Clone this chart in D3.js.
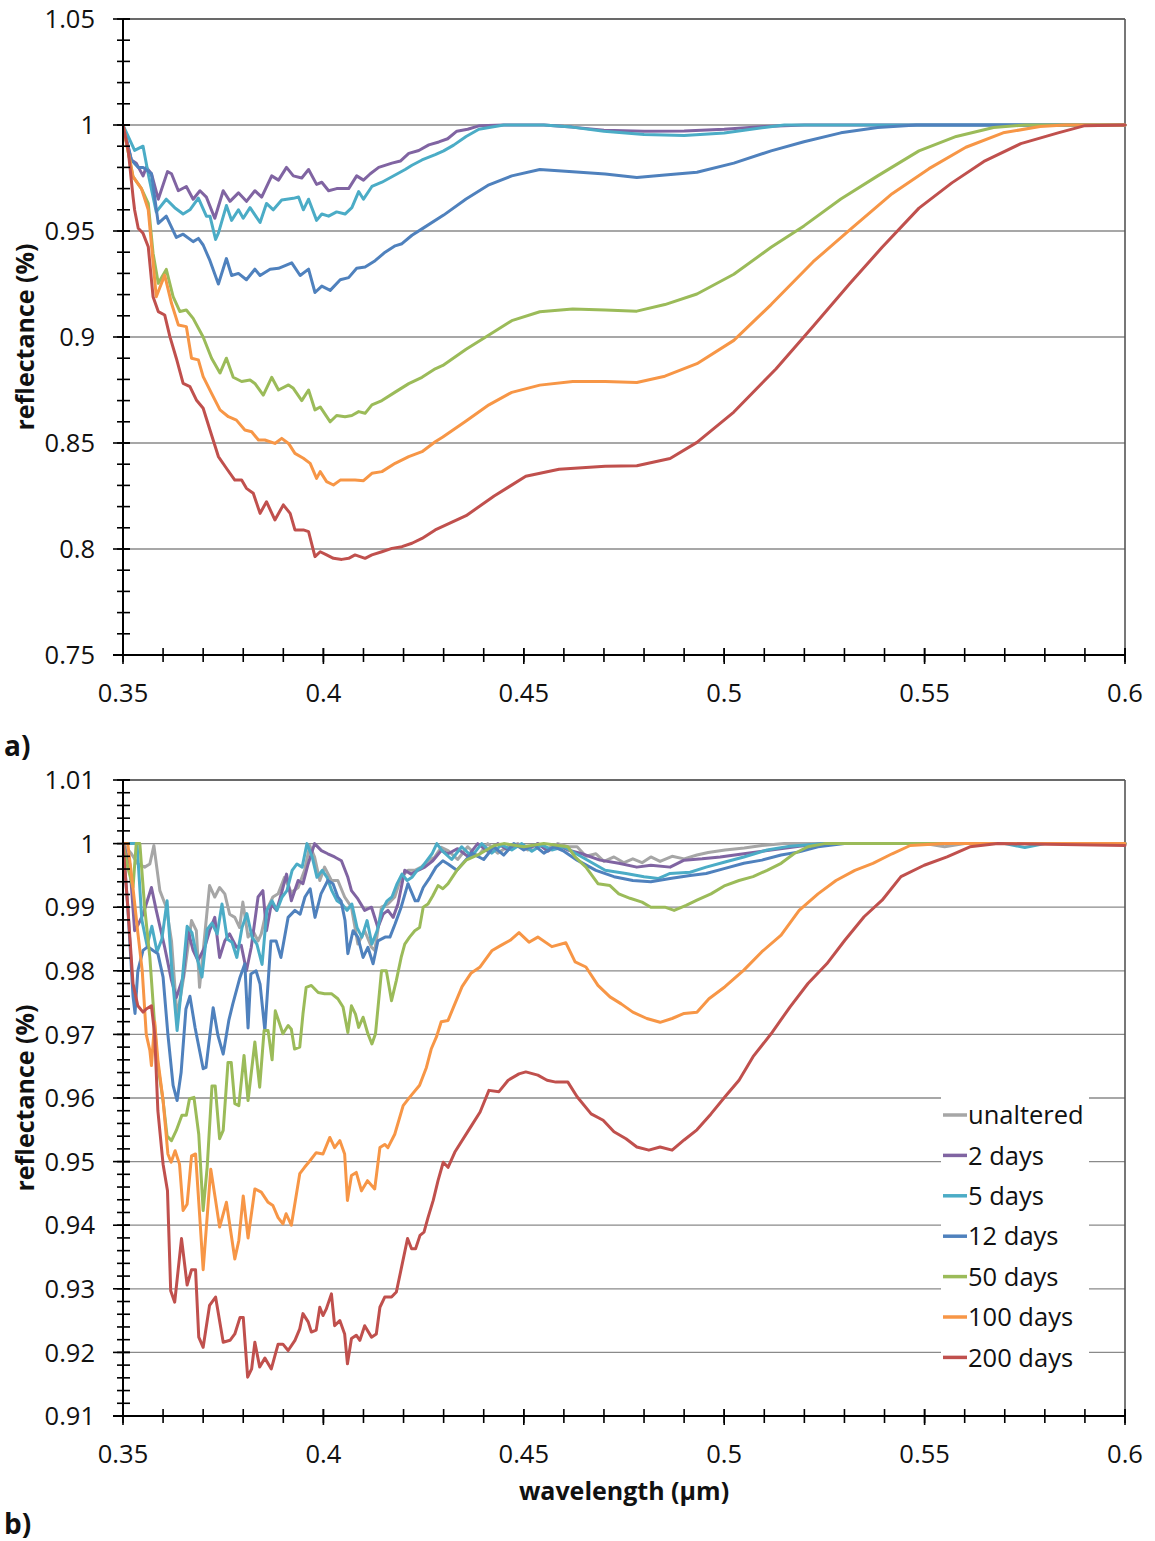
<!DOCTYPE html>
<html><head><meta charset="utf-8">
<script src="https://cdn.jsdelivr.net/npm/d3@7"></script>
<style>
body{margin:0;background:#fff;}
svg{display:block;}
text{font-family:"Open Sans","Noto Sans",sans-serif;}
</style>
</head><body>
<svg id="chart" width="1155" height="1541"></svg>
<script>
// ---------------- DATA: panel a ([wavelength µm, reflectance]) ----------------
const a_2days = [[0.35,1.0],[0.3521,0.9835],[0.3533,0.982],[0.355,0.976],[0.3558,0.980],[0.3571,0.977],[0.3588,0.965],[0.3611,0.978],[0.3621,0.977],[0.3638,0.969],[0.3658,0.971],[0.3675,0.965],[0.3692,0.969],[0.3708,0.966],[0.3729,0.956],[0.375,0.969],[0.3767,0.964],[0.3788,0.968],[0.3808,0.964],[0.3829,0.969],[0.3846,0.966],[0.3871,0.976],[0.3888,0.974],[0.3908,0.980],[0.3925,0.976],[0.3946,0.975],[0.3963,0.979],[0.3983,0.972],[0.3996,0.973],[0.4013,0.969],[0.4033,0.970],[0.4063,0.970],[0.4083,0.976],[0.41,0.974],[0.4117,0.977],[0.4138,0.980],[0.4171,0.982],[0.4192,0.983],[0.4213,0.9866],[0.4238,0.988],[0.4263,0.9906],[0.4288,0.992],[0.431,0.9935],[0.4333,0.9971],[0.436,0.998],[0.439,0.9997],[0.445,1.0],[0.455,1.0],[0.462,0.999],[0.47,0.9975],[0.48,0.997],[0.49,0.9972],[0.5,0.998],[0.51,0.9993],[0.52,1.0],[0.6,1.0]];
const a_5days = [[0.35,1.0],[0.3529,0.988],[0.355,0.990],[0.3565,0.975],[0.3583,0.959],[0.3608,0.965],[0.3629,0.961],[0.365,0.958],[0.3667,0.960],[0.3688,0.9655],[0.3708,0.957],[0.3717,0.957],[0.3731,0.946],[0.3738,0.949],[0.3758,0.962],[0.3771,0.955],[0.3788,0.960],[0.38,0.956],[0.3817,0.961],[0.3842,0.954],[0.3858,0.963],[0.3875,0.960],[0.3896,0.9646],[0.3925,0.9654],[0.3938,0.966],[0.395,0.960],[0.3963,0.965],[0.3983,0.955],[0.3996,0.958],[0.4013,0.957],[0.4033,0.959],[0.4054,0.958],[0.4071,0.961],[0.4088,0.9686],[0.41,0.965],[0.4121,0.971],[0.4146,0.973],[0.4171,0.9756],[0.4204,0.979],[0.4221,0.981],[0.4246,0.9835],[0.4279,0.986],[0.43,0.9878],[0.4325,0.9905],[0.4356,0.9946],[0.4388,0.998],[0.445,1.0],[0.455,1.0],[0.462,0.999],[0.47,0.997],[0.48,0.9955],[0.49,0.995],[0.5,0.9962],[0.51,0.9988],[0.515,1.0],[0.6,1.0]];
const a_12days = [[0.35,1.0],[0.3521,0.9835],[0.3538,0.980],[0.355,0.980],[0.3571,0.977],[0.3588,0.9536],[0.3608,0.957],[0.3633,0.947],[0.365,0.9485],[0.3675,0.945],[0.3688,0.9465],[0.37,0.9434],[0.3717,0.936],[0.3738,0.925],[0.3758,0.937],[0.3771,0.929],[0.3788,0.930],[0.3808,0.927],[0.3829,0.932],[0.3842,0.929],[0.3867,0.932],[0.3888,0.9324],[0.3921,0.935],[0.3942,0.929],[0.3963,0.932],[0.3979,0.921],[0.3996,0.924],[0.4017,0.922],[0.4042,0.927],[0.4063,0.928],[0.4083,0.9324],[0.4104,0.933],[0.4129,0.936],[0.4154,0.940],[0.4179,0.943],[0.4196,0.944],[0.4221,0.948],[0.4246,0.951],[0.43,0.9575],[0.4356,0.9651],[0.4413,0.9718],[0.447,0.976],[0.454,0.979],[0.4622,0.978],[0.4703,0.9769],[0.4782,0.9752],[0.4852,0.9764],[0.4932,0.9777],[0.5024,0.982],[0.5117,0.9878],[0.5199,0.9921],[0.5291,0.9963],[0.5383,0.9988],[0.548,1.0],[0.6,1.0]];
const a_50days = [[0.35,1.0],[0.3525,0.9756],[0.3546,0.970],[0.3563,0.963],[0.3575,0.9395],[0.3588,0.9253],[0.3608,0.9319],[0.3625,0.919],[0.3642,0.912],[0.3658,0.9127],[0.3675,0.9088],[0.37,0.900],[0.3721,0.890],[0.3742,0.883],[0.3758,0.890],[0.3775,0.881],[0.3796,0.879],[0.3817,0.8797],[0.3829,0.8781],[0.385,0.8726],[0.3871,0.881],[0.3888,0.875],[0.3913,0.8774],[0.3925,0.8758],[0.3946,0.870],[0.3963,0.875],[0.3979,0.8656],[0.3992,0.867],[0.4017,0.860],[0.4033,0.863],[0.4054,0.8624],[0.4071,0.863],[0.4088,0.8648],[0.4104,0.864],[0.4121,0.868],[0.4146,0.870],[0.4179,0.874],[0.4213,0.878],[0.4246,0.881],[0.4279,0.885],[0.4298,0.8866],[0.4356,0.8942],[0.4413,0.9009],[0.447,0.9077],[0.454,0.9119],[0.4622,0.9132],[0.4703,0.9127],[0.4782,0.9122],[0.4852,0.9153],[0.4932,0.9203],[0.5024,0.9296],[0.5117,0.9423],[0.5199,0.9524],[0.5291,0.9651],[0.5383,0.976],[0.5486,0.9878],[0.5579,0.9946],[0.5672,0.9988],[0.575,1.0],[0.6,1.0]];
const a_100days = [[0.35,1.0],[0.3525,0.9756],[0.3546,0.970],[0.3563,0.960],[0.3583,0.919],[0.3604,0.9292],[0.3621,0.9159],[0.3638,0.9057],[0.3658,0.9049],[0.3671,0.890],[0.3688,0.8892],[0.37,0.8813],[0.3721,0.8734],[0.3742,0.8656],[0.3763,0.8624],[0.3783,0.8608],[0.3804,0.8561],[0.3821,0.8553],[0.3838,0.8514],[0.3854,0.8514],[0.3879,0.8498],[0.3896,0.8522],[0.3913,0.8498],[0.3929,0.8451],[0.395,0.8428],[0.3967,0.8404],[0.3983,0.8333],[0.3992,0.8365],[0.4008,0.8318],[0.4025,0.8302],[0.4042,0.8325],[0.4063,0.8325],[0.4079,0.8325],[0.41,0.8322],[0.4121,0.8357],[0.4146,0.8365],[0.4179,0.8404],[0.4213,0.8436],[0.4246,0.8459],[0.4279,0.8506],[0.4298,0.8528],[0.4356,0.8604],[0.4413,0.868],[0.447,0.8739],[0.454,0.8773],[0.4622,0.879],[0.4703,0.879],[0.4782,0.8785],[0.4852,0.8815],[0.4932,0.8874],[0.5024,0.8984],[0.5117,0.9153],[0.5222,0.9355],[0.5314,0.9507],[0.5419,0.9676],[0.5511,0.9794],[0.5603,0.9895],[0.5696,0.9963],[0.5788,0.9993],[0.585,1.0],[0.6,1.0]];
const a_200days = [[0.35,1.0],[0.3513,0.9882],[0.3525,0.9662],[0.3529,0.9599],[0.3538,0.9513],[0.355,0.9489],[0.3563,0.9426],[0.3575,0.919],[0.3588,0.912],[0.3604,0.9104],[0.3617,0.9002],[0.3633,0.890],[0.365,0.8781],[0.3667,0.8766],[0.3683,0.8703],[0.37,0.8664],[0.3717,0.8561],[0.3738,0.8436],[0.3758,0.8381],[0.3779,0.8325],[0.3796,0.8325],[0.3808,0.8286],[0.3825,0.8263],[0.3842,0.8168],[0.3858,0.8223],[0.3879,0.8137],[0.39,0.8208],[0.3917,0.8168],[0.3929,0.809],[0.395,0.809],[0.3963,0.8082],[0.3979,0.7964],[0.3992,0.7987],[0.4008,0.7972],[0.4025,0.7956],[0.4046,0.7951],[0.4063,0.7956],[0.4079,0.7972],[0.4104,0.7956],[0.4121,0.7972],[0.4146,0.7987],[0.4171,0.8003],[0.4196,0.8011],[0.4221,0.8027],[0.4246,0.805],[0.4279,0.809],[0.4356,0.8157],[0.4426,0.825],[0.4505,0.8343],[0.4588,0.8376],[0.4703,0.839],[0.4782,0.8393],[0.4865,0.8427],[0.4932,0.8503],[0.5024,0.8646],[0.5129,0.8849],[0.5222,0.9051],[0.5314,0.9254],[0.5394,0.9423],[0.5486,0.9608],[0.5568,0.9727],[0.5648,0.9828],[0.574,0.9912],[0.5833,0.9963],[0.59,0.9997],[0.6,1.0]];

// ---------------- DATA: panel b ----------------
const b_unaltered = [[0.35,1.0],[0.3521,0.9984],[0.3537,0.9968],[0.3554,0.9963],[0.3567,0.9968],[0.3577,0.9997],[0.3592,0.9926],[0.3608,0.99],[0.3621,0.9847],[0.3635,0.9727],[0.3654,0.980],[0.3671,0.9879],[0.3683,0.9863],[0.3691,0.9774],[0.3705,0.9863],[0.3716,0.9934],[0.3729,0.9916],[0.3741,0.9931],[0.3754,0.9921],[0.3766,0.9889],[0.3779,0.9884],[0.3791,0.9868],[0.3799,0.9908],[0.3812,0.9853],[0.3824,0.9863],[0.3837,0.9847],[0.3845,0.9858],[0.3858,0.9895],[0.3874,0.9916],[0.3887,0.9921],[0.3903,0.9947],[0.392,0.9923],[0.3937,0.9931],[0.3953,0.9958],[0.3966,0.9997],[0.3978,0.9979],[0.3991,0.9942],[0.4003,0.9963],[0.402,0.9942],[0.4036,0.9942],[0.4053,0.9916],[0.407,0.99],[0.4086,0.9842],[0.4103,0.9863],[0.412,0.9837],[0.4128,0.9832],[0.4145,0.99],[0.4161,0.9905],[0.4178,0.9916],[0.4194,0.9947],[0.4211,0.9958],[0.4228,0.9958],[0.4244,0.9963],[0.4261,0.9973],[0.4278,0.9979],[0.4294,0.9994],[0.4311,0.9989],[0.4335,0.9975],[0.436,0.9995],[0.4385,0.998],[0.441,1.0],[0.4435,0.9985],[0.446,0.9995],[0.4485,1.0],[0.451,0.999],[0.4535,1.0],[0.456,0.9992],[0.4585,1.0],[0.461,0.9995],[0.4633,0.9995],[0.4655,0.998],[0.468,0.9984],[0.47,0.9972],[0.4725,0.9979],[0.475,0.997],[0.4772,0.9976],[0.4795,0.997],[0.4817,0.9979],[0.484,0.9972],[0.487,0.998],[0.49,0.9976],[0.4932,0.9982],[0.496,0.9986],[0.5002,0.999],[0.505,0.9993],[0.5094,0.9997],[0.515,1.0],[0.55,1.0],[0.555,0.9995],[0.56,1.0],[0.6,1.0]];
const b_2days = [[0.35,1.0],[0.3517,0.9968],[0.3529,0.9863],[0.3539,0.9874],[0.355,0.9889],[0.3571,0.9931],[0.3583,0.9895],[0.3604,0.9837],[0.3621,0.9785],[0.3633,0.9758],[0.365,0.979],[0.3662,0.9863],[0.3675,0.9832],[0.3687,0.9816],[0.3704,0.9837],[0.3716,0.9863],[0.3729,0.9884],[0.3741,0.9821],[0.3754,0.9847],[0.3766,0.9858],[0.3783,0.9837],[0.3795,0.984],[0.3808,0.98],[0.382,0.9837],[0.3837,0.9916],[0.3849,0.9926],[0.3858,0.9863],[0.387,0.9905],[0.3883,0.9895],[0.3895,0.9921],[0.3908,0.9952],[0.392,0.991],[0.3937,0.9942],[0.3949,0.9937],[0.3962,0.9968],[0.3978,1.0],[0.3995,0.9989],[0.4011,0.9984],[0.4028,0.9979],[0.4045,0.9973],[0.4061,0.9947],[0.407,0.9926],[0.4086,0.9913],[0.4103,0.9895],[0.412,0.99],[0.4136,0.9868],[0.4149,0.9889],[0.4161,0.9895],[0.4174,0.9884],[0.4186,0.9905],[0.4203,0.9958],[0.4219,0.9952],[0.4236,0.9958],[0.4253,0.9963],[0.4273,0.9973],[0.4294,0.9989],[0.4311,0.9984],[0.4335,0.9992],[0.436,0.998],[0.4385,1.0],[0.441,0.9988],[0.4435,1.0],[0.446,0.999],[0.4485,0.9998],[0.451,0.9992],[0.4535,1.0],[0.456,0.9988],[0.4585,0.9998],[0.461,0.999],[0.4645,0.9984],[0.469,0.9974],[0.4737,0.9969],[0.4782,0.9963],[0.4817,0.9966],[0.4865,0.9963],[0.49,0.9974],[0.4945,0.9976],[0.499,0.9979],[0.5049,0.9984],[0.5117,0.999],[0.5187,0.9996],[0.525,1.0],[0.6,1.0]];
const b_5days = [[0.35,1.0],[0.3517,1.0],[0.3535,1.0],[0.3547,0.988],[0.356,0.984],[0.3572,0.987],[0.3585,0.983],[0.3597,0.985],[0.361,0.991],[0.3622,0.980],[0.3635,0.9706],[0.3647,0.978],[0.366,0.987],[0.3672,0.986],[0.3685,0.982],[0.3697,0.979],[0.371,0.9865],[0.3722,0.9875],[0.3735,0.9858],[0.3747,0.9905],[0.376,0.985],[0.3772,0.9845],[0.3784,0.9821],[0.3797,0.9868],[0.3809,0.989],[0.3822,0.9853],[0.3834,0.9842],[0.3847,0.981],[0.3859,0.9895],[0.3872,0.991],[0.3884,0.9895],[0.3897,0.9916],[0.3909,0.9926],[0.3922,0.9958],[0.3934,0.9968],[0.3947,0.9963],[0.3959,1.0],[0.3972,0.9979],[0.3984,0.9947],[0.3997,0.9958],[0.4009,0.9947],[0.4021,0.9926],[0.4034,0.991],[0.4046,0.9905],[0.4059,0.9895],[0.4071,0.9905],[0.4084,0.9868],[0.4096,0.9853],[0.4109,0.9879],[0.4121,0.9842],[0.4134,0.9863],[0.4146,0.9895],[0.4159,0.991],[0.4171,0.9916],[0.4184,0.9937],[0.4196,0.9952],[0.4209,0.9942],[0.4221,0.9947],[0.4234,0.9958],[0.4246,0.9963],[0.4259,0.9974],[0.4271,0.9984],[0.4283,1.0],[0.4296,0.9989],[0.432,0.9975],[0.4345,0.9995],[0.437,0.998],[0.4395,1.0],[0.442,0.9985],[0.4445,0.9998],[0.447,0.999],[0.4495,1.0],[0.452,0.9988],[0.4545,0.9998],[0.457,0.999],[0.46,0.9995],[0.4645,0.9979],[0.4703,0.9958],[0.4755,0.9953],[0.48,0.9948],[0.4835,0.9945],[0.4865,0.9953],[0.4915,0.9955],[0.4955,0.9963],[0.5002,0.9971],[0.5049,0.9979],[0.5107,0.999],[0.5164,0.9996],[0.525,1.0],[0.57,1.0],[0.575,0.9994],[0.58,1.0],[0.6,1.0]];
const b_12days = [[0.35,1.0],[0.3512,0.99],[0.3525,0.976],[0.353,0.9733],[0.3537,0.980],[0.355,0.9832],[0.3562,0.9838],[0.3575,0.9832],[0.3587,0.9827],[0.36,0.979],[0.3612,0.970],[0.3625,0.962],[0.3635,0.9596],[0.3645,0.964],[0.3657,0.974],[0.3667,0.976],[0.368,0.971],[0.37,0.9646],[0.3707,0.9648],[0.3725,0.9742],[0.3737,0.9698],[0.375,0.9669],[0.3764,0.9722],[0.3774,0.9748],[0.3792,0.979],[0.3804,0.9811],[0.3812,0.971],[0.3819,0.9795],[0.3832,0.98],[0.3842,0.9779],[0.3854,0.9706],[0.3869,0.9847],[0.3882,0.9847],[0.3894,0.9821],[0.3912,0.9884],[0.3929,0.9895],[0.3942,0.9889],[0.3954,0.9916],[0.3967,0.9929],[0.3979,0.9884],[0.3994,0.9921],[0.4011,0.9942],[0.4024,0.9937],[0.4036,0.9916],[0.4044,0.991],[0.4054,0.9879],[0.4061,0.9827],[0.4074,0.9863],[0.4086,0.9853],[0.4099,0.9821],[0.4111,0.9837],[0.4124,0.9811],[0.4136,0.9847],[0.4154,0.9853],[0.4166,0.9853],[0.4179,0.9874],[0.4194,0.99],[0.4211,0.9937],[0.4229,0.991],[0.4236,0.991],[0.4249,0.9931],[0.4266,0.9947],[0.4281,0.9963],[0.4298,0.9973],[0.4311,0.9968],[0.4333,0.9958],[0.437,0.9985],[0.44,0.9975],[0.4425,0.9995],[0.445,0.9982],[0.4475,1.0],[0.45,0.999],[0.4525,0.9998],[0.455,0.9985],[0.4575,0.9995],[0.46,0.9988],[0.4633,0.9974],[0.468,0.9958],[0.4725,0.9948],[0.4772,0.9942],[0.4817,0.994],[0.4865,0.9945],[0.4915,0.995],[0.4955,0.9953],[0.5002,0.9961],[0.5049,0.9969],[0.5094,0.9974],[0.5142,0.9982],[0.5187,0.9987],[0.5234,0.9995],[0.53,1.0],[0.6,1.0]];
const b_50days = [[0.35,1.0],[0.3513,0.996],[0.3525,0.9931],[0.3533,1.0],[0.3542,1.0],[0.3554,0.990],[0.3567,0.9821],[0.3575,0.975],[0.3585,0.966],[0.36,0.9596],[0.361,0.954],[0.3621,0.9533],[0.3633,0.9549],[0.3647,0.9573],[0.3658,0.9573],[0.3666,0.9599],[0.3677,0.9601],[0.3689,0.9543],[0.37,0.9423],[0.371,0.9491],[0.3722,0.9619],[0.373,0.9619],[0.3741,0.9536],[0.375,0.9549],[0.3762,0.9656],[0.377,0.9656],[0.3779,0.9591],[0.3789,0.9588],[0.3802,0.9667],[0.3812,0.9596],[0.3829,0.9688],[0.3841,0.9617],[0.3852,0.9706],[0.3862,0.9706],[0.3872,0.966],[0.388,0.9737],[0.3899,0.9701],[0.3912,0.9714],[0.392,0.9708],[0.3928,0.9677],[0.3941,0.968],[0.3949,0.9732],[0.3957,0.9774],[0.397,0.9777],[0.3987,0.9766],[0.4003,0.9764],[0.402,0.9764],[0.4036,0.9756],[0.4049,0.9743],[0.4061,0.9703],[0.407,0.9745],[0.408,0.9732],[0.4088,0.9711],[0.4099,0.9727],[0.4111,0.9701],[0.4121,0.9685],[0.413,0.9701],[0.4145,0.98],[0.4157,0.98],[0.417,0.9753],[0.4182,0.9785],[0.4194,0.9821],[0.4203,0.9842],[0.4215,0.9853],[0.4228,0.9863],[0.424,0.9868],[0.4249,0.99],[0.4261,0.9905],[0.4273,0.9918],[0.4286,0.9934],[0.4298,0.9929],[0.4311,0.9937],[0.4333,0.9958],[0.4356,0.9974],[0.4391,0.9984],[0.4426,0.9997],[0.445,1.0],[0.45,0.9995],[0.455,1.0],[0.461,0.9995],[0.4628,0.9979],[0.4655,0.9963],[0.4685,0.9937],[0.4715,0.9934],[0.4737,0.9921],[0.4765,0.9914],[0.4795,0.9908],[0.4817,0.99],[0.4852,0.99],[0.4875,0.9895],[0.4905,0.9903],[0.4932,0.9911],[0.4967,0.9921],[0.5002,0.9934],[0.5037,0.9942],[0.5072,0.9948],[0.5107,0.9958],[0.5142,0.9969],[0.5174,0.9984],[0.5209,0.9995],[0.525,1.0],[0.6,1.0]];
const b_100days = [[0.35,1.0],[0.3512,1.0],[0.3525,0.993],[0.3537,0.986],[0.3548,0.980],[0.3558,0.970],[0.3567,0.9675],[0.3571,0.9651],[0.3579,0.972],[0.3587,0.966],[0.36,0.9596],[0.3612,0.9512],[0.362,0.9499],[0.363,0.9517],[0.3641,0.9496],[0.365,0.9423],[0.366,0.9433],[0.3671,0.9509],[0.3681,0.9512],[0.3691,0.9418],[0.37,0.933],[0.3719,0.9488],[0.3731,0.9439],[0.3741,0.9397],[0.3758,0.9436],[0.3779,0.9347],[0.3789,0.9376],[0.38,0.9446],[0.3812,0.938],[0.3829,0.9457],[0.3845,0.9452],[0.3862,0.9436],[0.3874,0.9431],[0.3887,0.9412],[0.3899,0.9402],[0.3907,0.9418],[0.392,0.940],[0.3941,0.9481],[0.3953,0.9491],[0.3966,0.9501],[0.3982,0.9514],[0.3999,0.9512],[0.4016,0.9538],[0.4028,0.9522],[0.4041,0.9533],[0.4053,0.9512],[0.406,0.9439],[0.407,0.9478],[0.4082,0.9483],[0.4095,0.9454],[0.411,0.947],[0.4128,0.9457],[0.4141,0.9522],[0.4153,0.9527],[0.4161,0.9522],[0.4178,0.9543],[0.4199,0.9588],[0.4215,0.9601],[0.424,0.962],[0.4257,0.9648],[0.4269,0.9677],[0.4282,0.9696],[0.4294,0.972],[0.4311,0.9722],[0.4328,0.9748],[0.4346,0.9775],[0.4368,0.9796],[0.4391,0.9806],[0.4421,0.9832],[0.4443,0.984],[0.4466,0.9848],[0.4488,0.986],[0.4513,0.9845],[0.4535,0.9853],[0.457,0.9838],[0.4605,0.9844],[0.4628,0.9814],[0.4655,0.9806],[0.4685,0.9777],[0.4715,0.9759],[0.4743,0.9748],[0.4772,0.9735],[0.4807,0.9725],[0.484,0.9719],[0.487,0.9725],[0.49,0.9733],[0.4932,0.9735],[0.4962,0.9756],[0.5002,0.9775],[0.5049,0.9801],[0.5094,0.983],[0.5142,0.9856],[0.5187,0.9895],[0.5234,0.9921],[0.5279,0.9942],[0.5326,0.9958],[0.5371,0.9969],[0.5419,0.9984],[0.5464,0.9997],[0.555,1.0],[0.6,1.0]];
const b_200days = [[0.35,1.0],[0.3512,0.990],[0.3525,0.978],[0.3537,0.9745],[0.355,0.9735],[0.3558,0.974],[0.3571,0.9745],[0.3579,0.970],[0.3587,0.958],[0.36,0.9496],[0.3611,0.9454],[0.3619,0.9297],[0.3629,0.9279],[0.3646,0.9379],[0.366,0.9306],[0.3671,0.933],[0.3681,0.933],[0.3689,0.9224],[0.37,0.9208],[0.3716,0.9274],[0.3731,0.9287],[0.375,0.9216],[0.3767,0.9219],[0.3779,0.9229],[0.3792,0.9255],[0.38,0.9255],[0.3811,0.9161],[0.3821,0.9174],[0.3829,0.9216],[0.3841,0.9177],[0.3854,0.9191],[0.387,0.9174],[0.3887,0.9213],[0.3899,0.9213],[0.3912,0.9203],[0.3929,0.9219],[0.3941,0.9237],[0.3949,0.9261],[0.3962,0.9248],[0.397,0.9232],[0.3982,0.9235],[0.3991,0.9271],[0.3999,0.9258],[0.4007,0.9268],[0.402,0.9292],[0.4028,0.9242],[0.4041,0.925],[0.4053,0.9229],[0.406,0.9182],[0.407,0.9222],[0.4082,0.9227],[0.4091,0.9219],[0.4103,0.9242],[0.412,0.9224],[0.4132,0.9229],[0.4141,0.9271],[0.4153,0.9287],[0.417,0.9287],[0.4182,0.9295],[0.4195,0.9334],[0.421,0.9379],[0.422,0.9363],[0.423,0.9363],[0.4241,0.9384],[0.4251,0.9389],[0.4261,0.9412],[0.4274,0.9439],[0.4286,0.947],[0.4299,0.9499],[0.4311,0.9491],[0.4328,0.9515],[0.4368,0.9555],[0.4391,0.9578],[0.4413,0.9612],[0.4438,0.961],[0.4461,0.9628],[0.4488,0.9638],[0.4505,0.9641],[0.4535,0.9636],[0.4558,0.9628],[0.458,0.9625],[0.461,0.9625],[0.4633,0.9602],[0.4668,0.9575],[0.4698,0.9565],[0.4725,0.9547],[0.4755,0.9536],[0.4782,0.9523],[0.4812,0.9518],[0.484,0.9523],[0.487,0.9518],[0.49,0.9534],[0.4932,0.955],[0.4967,0.9575],[0.5002,0.9602],[0.5037,0.9628],[0.5072,0.9665],[0.5117,0.9701],[0.5164,0.9743],[0.5209,0.978],[0.5256,0.9811],[0.5301,0.9848],[0.5349,0.9885],[0.5394,0.9911],[0.5441,0.9948],[0.5499,0.9966],[0.5556,0.9979],[0.5613,0.9995],[0.5683,1.0],[0.6,0.9997]];

// ---------------- names, colours, ticks ----------------
const seriesNames = ["unaltered","2 days","5 days","12 days","50 days","100 days","200 days"];
const seriesColors = ["#a6a6a6","#8064a2","#4bacc6","#4f81bd","#9bbb59","#f79646","#c0504d"];
const xTicks = [0.35,0.4,0.45,0.5,0.55,0.6];
const xTickLabels = ["0.35","0.4","0.45","0.5","0.55","0.6"];
const yTicksA = [0.75,0.8,0.85,0.9,0.95,1,1.05];
const yTickLabelsA = ["0.75","0.8","0.85","0.9","0.95","1","1.05"];
const yTicksB = [0.91,0.92,0.93,0.94,0.95,0.96,0.97,0.98,0.99,1,1.01];
const yTickLabelsB = ["0.91","0.92","0.93","0.94","0.95","0.96","0.97","0.98","0.99","1","1.01"];
const yTitle = "reflectance (%)";
const xTitle = "wavelength (µm)";

const seriesA = [
  {name:"2 days", data:a_2days, color:seriesColors[1]},
  {name:"5 days", data:a_5days, color:seriesColors[2]},
  {name:"12 days", data:a_12days, color:seriesColors[3]},
  {name:"50 days", data:a_50days, color:seriesColors[4]},
  {name:"100 days", data:a_100days, color:seriesColors[5]},
  {name:"200 days", data:a_200days, color:seriesColors[6]}
];
const seriesB = [b_unaltered,b_2days,b_5days,b_12days,b_50days,b_100days,b_200days]
  .map((d,i)=>({name:seriesNames[i], data:d, color:seriesColors[i]}));

// ---------------- drawing ----------------
const svg = d3.select("#chart");
const L = 123, R = 1125;
const FS = 25.5;

function drawPanel(cfg){
  const {top,bottom,yDomain,yTicks,yLabels,yMinorStep,series,id} = cfg;
  const x = d3.scaleLinear().domain([0.35,0.6]).range([L,R]);
  const y = d3.scaleLinear().domain(yDomain).range([bottom,top]);
  const g = svg.append("g");

  g.selectAll(".grid").data(yTicks.slice(1)).enter().append("line")
    .attr("x1",L).attr("x2",R).attr("y1",d=>y(d)).attr("y2",d=>y(d))
    .attr("stroke","#8a8a8a").attr("stroke-width",1.3);
  g.append("line").attr("x1",L).attr("x2",R).attr("y1",top).attr("y2",top)
    .attr("stroke","#555").attr("stroke-width",1.6);
  g.append("line").attr("x1",R).attr("x2",R).attr("y1",top).attr("y2",bottom)
    .attr("stroke","#555").attr("stroke-width",1.6);

  svg.append("clipPath").attr("id","clip"+id).append("rect")
    .attr("x",L).attr("y",top-3).attr("width",R-L+2).attr("height",bottom-top+6);

  const line = d3.line().x(d=>x(d[0])).y(d=>y(d[1]));
  const lg = g.append("g").attr("clip-path","url(#clip"+id+")");
  lg.selectAll("path").data(series).enter().append("path")
    .attr("d",d=>line(d.data)).attr("fill","none")
    .attr("stroke",d=>d.color).attr("stroke-width",3)
    .attr("stroke-linejoin","round").attr("stroke-linecap","round");

  const nMinor = Math.round((yDomain[1]-yDomain[0])/yMinorStep);
  const yMinor = d3.range(nMinor+1).map(i=>yDomain[0]+i*yMinorStep);
  g.selectAll(".ymin").data(yMinor).enter().append("line")
    .attr("x1",L-6).attr("x2",L+7).attr("y1",d=>y(d)).attr("y2",d=>y(d))
    .attr("stroke","#000").attr("stroke-width",1.6);
  g.selectAll(".ymaj").data(yTicks).enter().append("line")
    .attr("x1",L-10).attr("x2",L+7).attr("y1",d=>y(d)).attr("y2",d=>y(d))
    .attr("stroke","#000").attr("stroke-width",1.6);
  const xMinor = d3.range(26).map(i=>0.35+i*0.01);
  g.selectAll(".xmin").data(xMinor).enter().append("line")
    .attr("x1",d=>x(d)).attr("x2",d=>x(d)).attr("y1",bottom-7).attr("y2",bottom+7)
    .attr("stroke","#000").attr("stroke-width",1.6);
  g.selectAll(".xmaj").data(xTicks).enter().append("line")
    .attr("x1",d=>x(d)).attr("x2",d=>x(d)).attr("y1",bottom-7).attr("y2",bottom+9)
    .attr("stroke","#000").attr("stroke-width",1.6);
  g.append("line").attr("x1",L).attr("x2",L).attr("y1",top).attr("y2",bottom+1)
    .attr("stroke","#000").attr("stroke-width",2);
  g.append("line").attr("x1",L-10).attr("x2",R).attr("y1",bottom).attr("y2",bottom)
    .attr("stroke","#000").attr("stroke-width",2);

  g.selectAll(".ylab").data(yTicks).enter().append("text")
    .attr("x",L-28).attr("y",d=>y(d)).attr("dy","0.36em")
    .attr("text-anchor","end").attr("font-size",FS).attr("fill","#111")
    .text((d,i)=>yLabels[i]);
  g.selectAll(".xlab").data(xTicks).enter().append("text")
    .attr("x",d=>x(d)).attr("y",bottom+47)
    .attr("text-anchor","middle").attr("font-size",FS).attr("fill","#111")
    .text((d,i)=>xTickLabels[i]);
  g.append("text").attr("transform",`translate(25,${(top+bottom)/2}) rotate(-90)`)
    .attr("text-anchor","middle").attr("dy","0.36em")
    .attr("font-size",25).attr("font-weight","bold").attr("fill","#111")
    .text(yTitle);
  return {x,y,g};
}

drawPanel({id:"a",top:19,bottom:655,yDomain:[0.75,1.05],yTicks:yTicksA,yLabels:yTickLabelsA,yMinorStep:0.01,series:seriesA});
drawPanel({id:"b",top:780,bottom:1416,yDomain:[0.91,1.01],yTicks:yTicksB,yLabels:yTickLabelsB,yMinorStep:0.002,series:seriesB});

svg.append("text").attr("x",(L+R)/2).attr("y",1500).attr("text-anchor","middle")
  .attr("font-size",25).attr("font-weight","bold").attr("fill","#111").text(xTitle);

svg.append("text").attr("x",4).attr("y",756).attr("font-size",28).attr("font-weight","bold").attr("fill","#111").text("a)");
svg.append("text").attr("x",4).attr("y",1534).attr("font-size",28).attr("font-weight","bold").attr("fill","#111").text("b)");

const leg = svg.append("g");
leg.append("rect").attr("x",941).attr("y",1093).attr("width",148).attr("height",285).attr("fill","#fff");
const legY0 = 1115, legStep = 40.4;
seriesB.forEach((s,i)=>{
  const yy = legY0 + i*legStep;
  leg.append("line").attr("x1",943).attr("x2",967).attr("y1",yy).attr("y2",yy)
    .attr("stroke",s.color).attr("stroke-width",3.5);
  leg.append("text").attr("x",968).attr("y",yy).attr("dy","0.36em")
    .attr("font-size",FS).attr("fill","#111").text(s.name);
});
</script>
</body></html>
